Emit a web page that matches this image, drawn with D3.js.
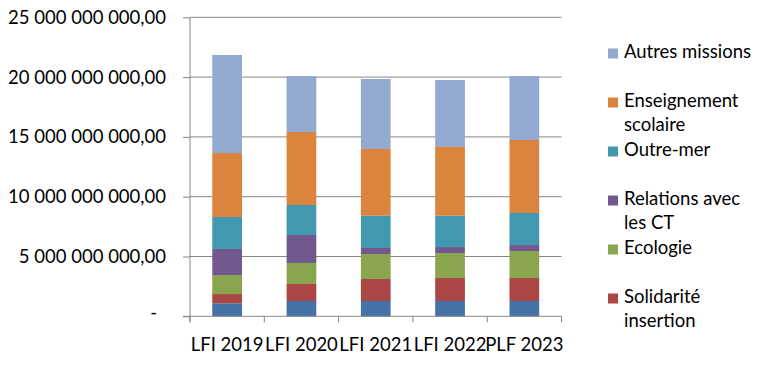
<!DOCTYPE html>
<html><head><meta charset="utf-8">
<script src="https://cdn.jsdelivr.net/npm/d3@7"></script>
<style>
html,body{margin:0;padding:0;background:#fff;}
svg{display:block;font-family:Lato,"Open Sans",sans-serif;}
</style></head>
<body><svg id="chart" width="770" height="375"></svg>
<script>
// Data (values in billions of euros), stacked bottom -> top
const categories = ["LFI 2019","LFI 2020","LFI 2021","LFI 2022","PLF 2023"];
const seriesNames = ["Autres (série 7)","Solidarité insertion","Ecologie","Relations avec les CT","Outre-mer","Enseignement scolaire","Autres missions"];
const seriesColors = ["#4572A7","#AA4643","#89A54E","#71588F","#4198AF","#DB843D","#93A9CF"];
const serie7      = [1.09, 1.28, 1.28, 1.28, 1.28];
const solidarite  = [0.77, 1.42, 1.84, 1.92, 1.92];
const ecologie    = [1.59, 1.76, 2.09, 2.09, 2.26];
const relationsCT = [2.18, 2.34, 0.50, 0.50, 0.50];
const outreMer    = [2.67, 2.51, 2.70, 2.62, 2.68];
const enseignement= [5.35, 6.10, 5.58, 5.75, 6.10];
const autres      = [8.20, 4.68, 5.85, 5.60, 5.35];
const yTicks = [0, 5, 10, 15, 20, 25];
const legendEntries = [
  {series: 6, lines: ["Autres missions"]},
  {series: 5, lines: ["Enseignement","scolaire"]},
  {series: 4, lines: ["Outre-mer"]},
  {series: 3, lines: ["Relations avec","les CT"]},
  {series: 2, lines: ["Ecologie"]},
  {series: 1, lines: ["Solidarité","insertion"]}
];

const seriesValues = [serie7, solidarite, ecologie, relationsCT, outreMer, enseignement, autres];
const rows = categories.map((c, i) => {
  const r = {cat: c};
  seriesNames.forEach((s, j) => r[s] = seriesValues[j][i] * 1e9);
  return r;
});
const stacked = d3.stack().keys(seriesNames)(rows);

const svg = d3.select("#chart");
const pLeft = 190, pRight = 561.5, pTop = 17.3, pBottom = 316.3;
const fontSize = 18.5;

const x = d3.scaleBand().domain(categories).range([pLeft, pRight]).paddingInner(0.6).paddingOuter(0.3);
const y = d3.scaleLinear().domain([0, 25e9]).range([pBottom, pTop]);

const frFmt = d3.formatLocale({decimal: ",", thousands: "\u00a0", grouping: [3], currency: ["", ""]}).format(",.2f");
const fmt = v => v === 0 ? "-" : frFmt(v);

// gridlines
svg.append("g").selectAll("line").data(yTicks.filter(t => t > 0)).join("line")
  .attr("x1", pLeft).attr("x2", pRight)
  .attr("y1", d => y(d * 1e9)).attr("y2", d => y(d * 1e9))
  .attr("stroke", "#868686").attr("stroke-width", 1);

// bars
svg.append("g").selectAll("g").data(stacked).join("g")
  .attr("fill", (d, i) => seriesColors[i])
  .selectAll("rect").data(d => d).join("rect")
  .attr("x", d => x(d.data.cat))
  .attr("width", x.bandwidth())
  .attr("y", d => y(d[1]))
  .attr("height", d => y(d[0]) - y(d[1]));

// y axis
const yAxis = svg.append("g").attr("transform", `translate(${pLeft},0)`)
  .call(d3.axisLeft(y).tickValues(yTicks.map(t => t * 1e9)).tickFormat(fmt).tickSize(7).tickPadding(17));
yAxis.select(".domain").attr("stroke", "#868686").attr("d", `M0,${pTop}V${pBottom + 6}`);
yAxis.selectAll(".tick line").attr("stroke", "#868686");
yAxis.selectAll("text").attr("font-size", fontSize).attr("fill", "#000").attr("font-family", "Lato, sans-serif");
yAxis.selectAll(".tick").filter(d => d === 0).select("text").attr("dx", -9).attr("dy", "0.1em");

// x axis
const xAxis = svg.append("g").attr("transform", `translate(0,${pBottom})`)
  .call(d3.axisBottom(x).tickSize(0).tickPadding(22));
xAxis.select(".domain").attr("stroke", "#868686").attr("d", `M${pLeft - 7},0H${pRight}`);
xAxis.selectAll("text").attr("font-size", fontSize).attr("fill", "#000").attr("font-family", "Lato, sans-serif");
const bounds = [pLeft].concat(categories.map(c => x(c) - x.step() * x.paddingInner() / 2 + x.step()));
xAxis.append("g").selectAll("line").data(bounds).join("line")
  .attr("x1", d => d).attr("x2", d => d).attr("y1", 0).attr("y2", 6)
  .attr("stroke", "#868686");

// legend
const ly = d3.scalePoint().domain(d3.range(legendEntries.length)).range([58, 303]);
const lg = svg.append("g").selectAll("g").data(legendEntries).join("g")
  .attr("transform", (d, i) => `translate(608,${ly(i)})`);
lg.append("rect").attr("x", 0).attr("y", -9.5).attr("width", 10).attr("height", 10)
  .attr("fill", d => seriesColors[d.series]);
lg.append("text").attr("x", 16).attr("font-size", fontSize).attr("fill", "#000")
  .selectAll("tspan").data(d => d.lines).join("tspan")
  .attr("x", 16).attr("y", (d, i) => i * 23.5).text(d => d);
</script>
</body></html>
